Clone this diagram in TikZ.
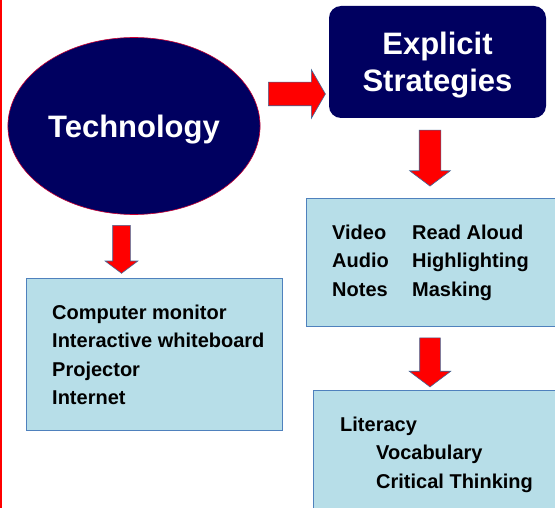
\documentclass[tikz,border=0pt]{standalone}
\usepackage{fontspec}
\setmainfont{Liberation Sans}
\usepackage{xcolor}
\usepackage{tikz}
\usetikzlibrary{shapes.arrows,shapes.geometric}

\definecolor{navy}{RGB}{0,0,96}
\definecolor{lightblue}{RGB}{183,222,232}
\definecolor{boxline}{RGB}{79,129,189}

\tikzset{
	title/.style={text=white, font=\fontsize{31}{37}\selectfont\bfseries, align=center, text depth=0pt},
	infobox/.style={draw=boxline, fill=lightblue, line width=0.8pt, anchor=north west, inner sep=0pt},
	itemlist/.style={font=\fontsize{20}{28.5}\selectfont\bfseries, anchor=north west, inner sep=0pt},
	blockarrow/.style={single arrow, draw=boxline!80!black, fill=red, line width=0.6pt, inner sep=0pt}
}

\begin{document}
\begin{tikzpicture}[x=1pt, y=-1pt]
\clip (0,0) rectangle (555,508);
\fill[white] (0,0) rectangle (555,508);
\fill[red] (0,0) rectangle (2.2,508);

\node[ellipse, draw=purple!80!red, fill=navy, line width=0.6pt, minimum width=249pt, minimum height=177pt, title] (tech) at (134,126) {Technology};
\node[rectangle, rounded corners=12pt, fill=navy, minimum width=217pt, minimum height=112pt, title] (strat) at (437.5,62) {Explicit\\Strategies};

\node[infobox, minimum width=256pt, minimum height=152pt] (techbox) at (26,278) {};
\node[infobox, minimum width=270pt, minimum height=128pt] (stratbox) at (306,198) {};
\node[infobox, minimum width=270pt, minimum height=140pt] (litbox) at (313,390) {};

\node[itemlist] (techlist) at (52,299) {\begin{tabular}{@{}l@{}}
	Computer monitor\\
	Interactive whiteboard\\
	Projector\\
	Internet
\end{tabular}};
\node[itemlist] (stratlist) at (332,219) {\begin{tabular}{@{}p{80pt}@{}l@{}}
	Video & Read Aloud\\
	Audio & Highlighting\\
	Notes & Masking
\end{tabular}};
\node[itemlist] (litlist) at (340,411) {\begin{tabular}{@{}l@{}}
	Literacy\\
	\hspace*{36pt}Vocabulary\\
	\hspace*{36pt}Critical Thinking
\end{tabular}};

% block arrows between the parts
\node[blockarrow, minimum height=57pt, minimum width=48pt, single arrow head extend=12.5pt, single arrow tip angle=120, text height=23pt] (rightarrow) at (293.5,94) {};
\node[blockarrow, rotate=-90, minimum height=56pt, minimum width=40pt, single arrow head extend=9.5pt, single arrow tip angle=106, text height=21pt] (stratarrow) at (430,154) {};
\node[blockarrow, rotate=-90, minimum height=49pt, minimum width=41pt, single arrow head extend=10.5pt, single arrow tip angle=106, text height=20pt] (litarrow) at (430,358.5) {};
\node[blockarrow, rotate=-90, minimum height=48pt, minimum width=32pt, single arrow head extend=7.5pt, single arrow tip angle=106, text height=17pt] (techarrow) at (121.5,246) {};
\end{tikzpicture}
\end{document}
